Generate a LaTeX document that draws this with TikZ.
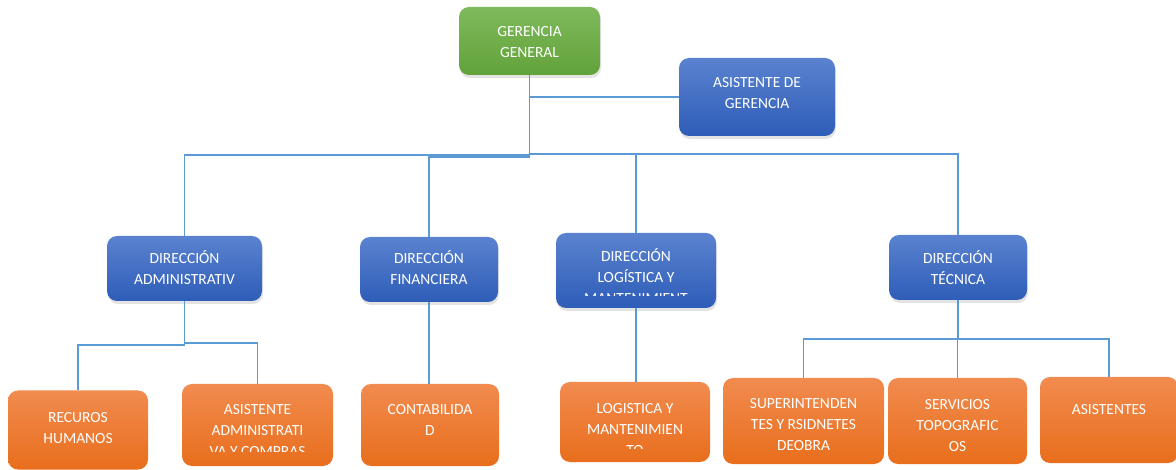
\documentclass[tikz,border=0pt]{standalone}
\usepackage{fontspec}
\setmainfont{Carlito}
\usetikzlibrary{shadows}
\definecolor{gtop}{HTML}{7EBA5B}
\definecolor{gbot}{HTML}{62A23A}
\definecolor{btop}{HTML}{5A82CF}
\definecolor{bbot}{HTML}{2E5DB8}
\definecolor{otop}{HTML}{F18B4F}
\definecolor{obot}{HTML}{E86E1C}
\definecolor{linec}{HTML}{5B9BD5}
\begin{document}
\begin{tikzpicture}[x=1pt,y=-1pt,
  box/.style={rounded corners=10pt, inner sep=0pt, draw=none},
  shbox/.style={box, drop shadow={shadow xshift=1pt, shadow yshift=-3pt, opacity=0.22}},
  gbox/.style={shbox, top color=gtop, bottom color=gbot},
  bbox/.style={shbox, top color=btop, bottom color=bbot},
  obox/.style={box, top color=otop, bottom color=obot},
  lbl/.style={text=white, font=\fontsize{15.5}{21}\selectfont, align=center, inner sep=0pt, anchor=north},
  conn/.style={draw=linec, line width=1.2pt}]
\useasboundingbox (0,0) rectangle (1176,470);
\fill[white] (0,0) rectangle (1176,470);

% connectors
\coordinate (b1) at (529.5,155);
\coordinate (b2) at (529.5,157);
\coordinate (b3) at (529.5,154);
\coordinate (ja1) at (184.5,345);
\coordinate (ja2) at (184.5,343);
\coordinate (jt) at (958,339);

% boxes
\node[gbox, minimum width=141pt, minimum height=68pt] (gg) at (529.5,41) {};
\node[bbox, minimum width=156pt, minimum height=78pt] (ag) at (757,97) {};
\node[bbox, minimum width=155pt, minimum height=65pt] (da) at (184.5,268.5) {};
\node[bbox, minimum width=138pt, minimum height=65pt] (df) at (429,269.5) {};
\node[bbox, minimum width=160pt, minimum height=75pt] (dl) at (636,270.5) {};
\node[bbox, minimum width=138pt, minimum height=65pt] (dt) at (958,267.5) {};
\node[obox, minimum width=140pt, minimum height=79pt] (rh) at (78,430) {};
\node[obox, minimum width=151pt, minimum height=82pt] (aa) at (257.5,425) {};
\node[obox, minimum width=138pt, minimum height=82pt] (co) at (430,425) {};
\node[obox, minimum width=150pt, minimum height=80pt] (lo) at (635,422) {};
\node[obox, minimum width=161pt, minimum height=86pt] (su) at (803.5,421) {};
\node[obox, minimum width=139pt, minimum height=86pt] (se) at (957.5,421) {};
\node[obox, minimum width=138pt, minimum height=86pt] (as) at (1109,420) {};

\begin{scope}[on background layer/.try]
\end{scope}
\draw[conn] (gg.south) |- (ag.west);
\draw[conn] (gg.south) -- (b2);
\draw[conn] (b1) -| (da.north);
\draw[conn] (b2) -| (df.north);
\draw[conn] (b3) -| (dl.north);
\draw[conn] (b3) -| (dt.north);
\draw[conn] (da.south) -- (ja1);
\draw[conn] (ja1) -| (rh.north);
\draw[conn] (ja2) -| (aa.north);
\draw[conn] (df.south) -- (df.south |- co.north);
\draw[conn] (dl.south) -- (dl.south |- lo.north);
\draw[conn] (dt.south) -- (jt);
\draw[conn] (jt) -| (su.north);
\draw[conn] (jt) -| (se.north);
\draw[conn] (jt) -| (as.north);

% texts
\node[lbl] (ggt) at (529.5,22) {\rule{0pt}{14pt}GERENCIA\\GENERAL};
\node[lbl] (agt) at (757,73) {\rule{0pt}{14pt}ASISTENTE DE\\GERENCIA};
\node[lbl] (dat) at (184.5,249) {\rule{0pt}{14pt}DIRECCIÓN\\ADMINISTRATIV};
\node[lbl] (dft) at (429,249) {\rule{0pt}{14pt}DIRECCIÓN\\FINANCIERA};
\begin{scope}
\clip (556,233) rectangle (716,296);
\node[lbl] (dlt) at (636,247) {\rule{0pt}{14pt}DIRECCIÓN\\LOGÍSTICA Y\\MANTENIMIENT};
\end{scope}
\node[lbl] (dtt) at (958,249) {\rule{0pt}{14pt}DIRECCIÓN\\TÉCNICA};
\node[lbl] (rht) at (78,408) {\rule{0pt}{14pt}RECUROS\\HUMANOS};
\begin{scope}
\clip (182,384) rectangle (333,451.5);
\node[lbl] (aat) at (257.5,400) {\rule{0pt}{14pt}ASISTENTE\\ADMINISTRATI\\VA Y COMPRAS};
\end{scope}
\node[lbl] (cot) at (430,400) {\rule{0pt}{14pt}CONTABILIDA\\D};
\begin{scope}
\clip (560,382) rectangle (710,448);
\node[lbl] (lot) at (635,399) {\rule{0pt}{14pt}LOGISTICA Y\\MANTENIMIEN\\TO};
\end{scope}
\node[lbl] (sut) at (803.5,394) {\rule{0pt}{14pt}SUPERINTENDEN\\TES Y RSIDNETES\\DEOBRA};
\node[lbl] (set) at (957.5,395) {\rule{0pt}{14pt}SERVICIOS\\TOPOGRAFIC\\OS};
\node[lbl] (ast) at (1109,400) {\rule{0pt}{14pt}ASISTENTES};
\end{tikzpicture}
\end{document}
